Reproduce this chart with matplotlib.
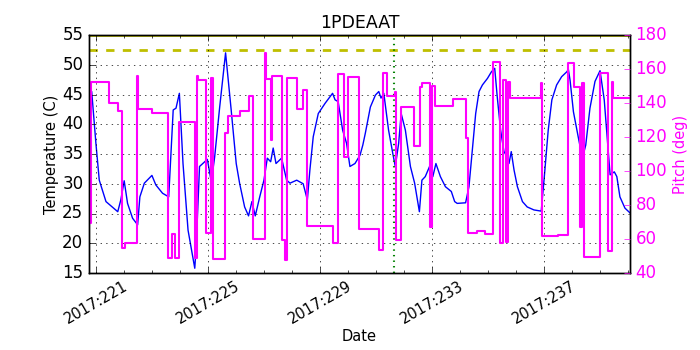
import numpy as np
import matplotlib
matplotlib.use('Agg')
import matplotlib.pyplot as plt

# 1PDEAAT model temperature (day of year 2017, deg C)
temp_time = [220.75, 220.85, 221.00, 221.12, 221.36, 221.78, 221.89, 222.01, 222.13, 222.31,
             222.49, 222.57, 222.73, 223.00, 223.14, 223.38, 223.60, 223.76, 223.86, 223.98,
             224.11, 224.29, 224.53, 224.58, 224.70, 224.98, 225.12, 225.24, 225.42, 225.63,
             225.83, 226.01, 226.13, 226.31, 226.45, 226.57, 226.69, 226.85, 227.00, 227.12,
             227.24, 227.33, 227.43, 227.63, 227.81, 227.93, 228.17, 228.40, 228.55, 228.64,
             228.76, 228.94, 229.18, 229.45, 229.54, 229.65, 229.81, 229.95, 230.07, 230.25,
             230.43, 230.53, 230.62, 230.80, 230.98, 231.10, 231.18, 231.28, 231.45, 231.60,
             231.69, 231.81, 231.90, 232.05, 232.23, 232.38, 232.55, 232.64, 232.76, 232.94,
             233.03, 233.14, 233.30, 233.48, 233.69, 233.81, 233.90, 234.20, 234.32, 234.44,
             234.56, 234.68, 234.80, 234.98, 235.12, 235.24, 235.33, 235.45, 235.57, 235.69,
             235.75, 235.83, 235.93, 236.05, 236.23, 236.40, 236.64, 236.90, 237.00, 237.15,
             237.28, 237.45, 237.63, 237.81, 237.87, 237.93, 238.05, 238.22, 238.37, 238.49,
             238.64, 238.82, 239.00, 239.15, 239.30, 239.36, 239.45, 239.51, 239.60, 239.71,
             239.89, 240.07]
temp = [43.0, 45.5, 36.8, 30.6, 27.0, 25.3, 27.3, 30.5, 26.7, 24.2,
        23.1, 27.8, 30.1, 31.4, 29.8, 28.4, 27.8, 42.4, 42.7, 45.2,
        33.4, 22.2, 15.8, 19.4, 32.9, 34.1, 30.3, 34.5, 42.9, 52.0,
        42.4, 33.4, 30.1, 26.1, 24.6, 27.0, 24.6, 27.8, 30.6, 34.3,
        33.7, 36.0, 33.4, 34.3, 30.6, 30.1, 30.6, 30.0, 27.3, 32.3,
        37.9, 41.8, 43.5, 45.2, 44.1, 43.8, 39.0, 36.8, 32.9, 33.4,
        34.8, 36.5, 38.5, 42.9, 44.9, 45.5, 44.4, 45.2, 39.0, 35.1,
        32.9, 36.8, 41.8, 39.0, 32.9, 30.1, 25.3, 30.6, 31.2, 33.2,
        31.2, 33.4, 31.2, 29.5, 28.7, 27.0, 26.7, 26.8, 29.5, 35.7,
        41.8, 45.5, 46.6, 47.7, 48.8, 49.4, 44.6, 39.0, 35.4, 34.5,
        33.4, 35.4, 32.3, 29.5, 27.0, 26.1, 25.6, 25.4, 30.6, 39.0,
        44.1, 46.6, 48.0, 48.8, 49.2, 47.4, 42.1, 37.9, 34.3, 36.5,
        42.7, 47.2, 49.0, 44.1, 35.1, 31.5, 31.8, 32.0, 31.2, 27.8,
        25.9, 25.1]

# pitch (deg), step changes
pitch_time = [220.75, 220.82, 221.45, 221.78, 221.92, 222.05, 222.46, 222.50, 222.99, 223.56,
              223.71, 223.82, 223.95, 224.53, 224.61, 224.65, 224.94, 225.10, 225.18, 225.60,
              225.71, 226.13, 226.46, 226.61, 227.03, 227.06, 227.24, 227.27, 227.63, 227.75,
              227.83, 228.17, 228.40, 228.55, 229.48, 229.63, 229.86, 230.01, 230.40, 231.12,
              231.25, 231.39, 231.67, 231.71, 231.89, 232.37, 232.56, 232.64, 232.94, 233.00,
              233.10, 233.74, 234.20, 234.29, 234.60, 234.88, 235.19, 235.43, 235.54, 235.65,
              235.71, 235.79, 236.90, 236.94, 237.50, 237.85, 238.07, 238.28, 238.37, 238.44,
              239.00, 239.30, 239.42, 239.48, 240.07]
pitch = [69.6, 152.5, 139.8, 135.5, 54.5, 57.5, 155.9, 136.3, 134.0, 48.6,
         62.9, 48.6, 129.0, 48.6, 155.9, 153.5, 63.4, 154.5, 48.0, 122.6,
         132.4, 135.5, 144.3, 59.8, 169.2, 153.9, 118.2, 155.9, 59.4, 47.6,
         154.9, 136.3, 147.6, 67.7, 57.9, 156.9, 108.4, 155.5, 65.9, 53.5,
         157.8, 144.3, 146.7, 59.4, 137.5, 114.9, 149.2, 152.0, 66.9, 150.0,
         138.2, 142.4, 119.2, 63.4, 64.9, 63.2, 164.3, 57.5, 153.5, 58.0,
         152.5, 142.8, 151.6, 61.8, 62.2, 163.3, 149.2, 66.9, 151.6, 49.6,
         157.8, 52.9, 152.5, 143.1, 143.1]

yellow_hi = 55.0
plan_limit_hi = 52.5
run_start = 231.65

major_days = [221, 225, 229, 233, 237]
major_labels = ['2017:%d' % d for d in major_days]

plt.style.use('classic')
fig = plt.figure(figsize=(7, 3.5), dpi=100, facecolor='white')
ax = fig.add_axes([0.127, 0.22, 0.773, 0.68])
ax.plot(temp_time, temp, color='b', lw=1.0)
ax.axhline(yellow_hi, linestyle='-', color='y', lw=2)
ax.axhline(plan_limit_hi, linestyle='--', color='y', lw=2)
ax.axvline(run_start, linestyle=':', color='g', lw=1.5)
ax.set_xlim(220.75, 240.07)
ax.set_ylim(15, 55)
ax.set_xticks(major_days)
ax.set_xticklabels(major_labels, rotation=30, ha='center', fontsize=10.5)
ax.set_xticks(np.arange(221, 241), minor=True)
ax.tick_params(axis='x', pad=4)
ax.grid(True)
ax.set_xlabel('Date', fontsize=10.5)
ax.xaxis.set_label_coords(0.5, -0.235)
ax.set_ylabel('Temperature (C)', fontsize=10.5, labelpad=2)
ax.set_title('1PDEAAT', fontsize=12.5)

ax2 = ax.twinx()
ax2.plot(pitch_time, pitch, color='magenta', lw=1.5, drawstyle='steps-post')
ax2.set_ylim(40, 180)
ax2.set_xlim(220.75, 240.07)
ax2.set_ylabel('Pitch (deg)', color='magenta', fontsize=10.5, labelpad=4)
ax2.tick_params(axis='y', colors='magenta')
for lab in ax2.get_yticklabels():
    lab.set_color('magenta')

fig.savefig('out.png', dpi=100, facecolor='white')
